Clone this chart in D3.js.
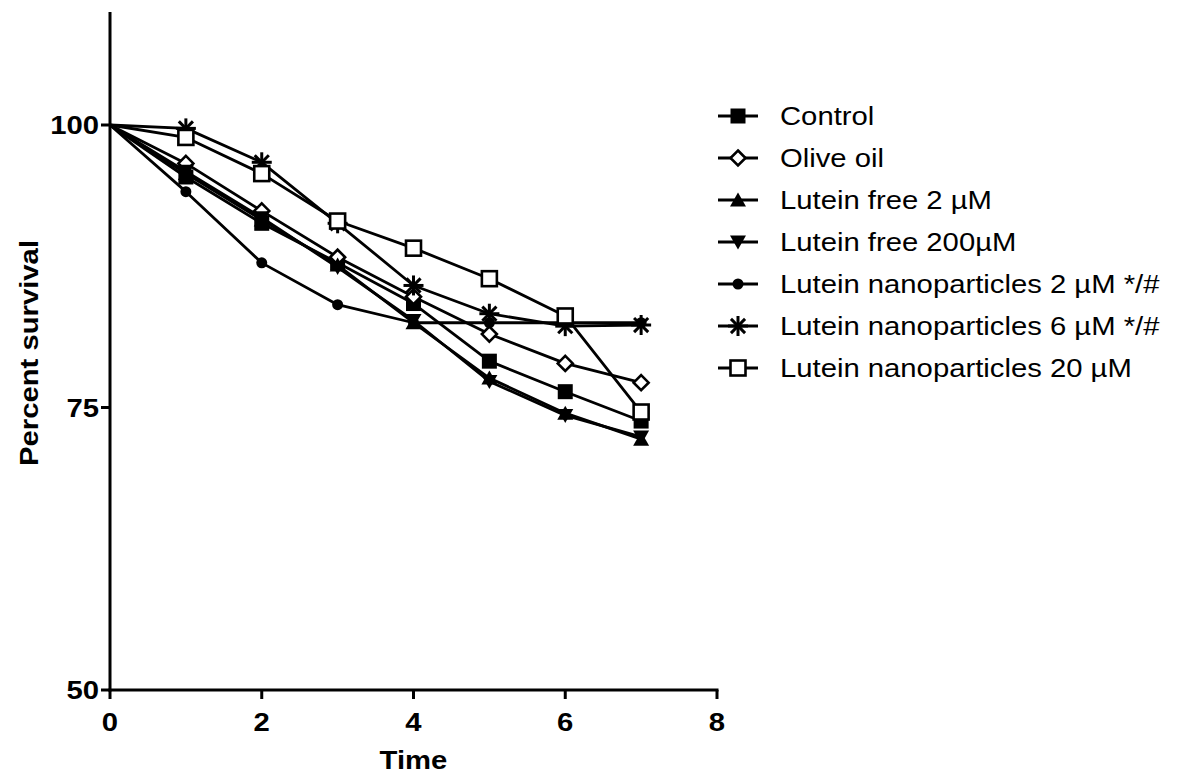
<!DOCTYPE html>
<html>
<head>
<meta charset="utf-8">
<script src="https://cdn.jsdelivr.net/npm/d3@7"></script>
<style>
  body { margin: 0; background: #fff; }
  svg { display: block; }
</style>
</head>
<body>
<script>
const times = [0, 1, 2, 3, 4, 5, 6, 7];
const seriesNames = [
  'Control',
  'Olive oil',
  'Lutein free 2 µM',
  'Lutein free 200µM',
  'Lutein nanoparticles 2 µM */#',
  'Lutein nanoparticles 6 µM */#',
  'Lutein nanoparticles 20 µM'
];
const control = [100, 95.4, 91.3, 87.8, 84.2, 79.1, 76.4, 73.8];
const oliveOil = [100, 96.6, 92.4, 88.3, 84.8, 81.5, 78.9, 77.2];
const luteinFree2 = [100, 95.7, 91.6, 87.6, 82.5, 77.6, 74.5, 72.2];
const luteinFree200 = [100, 95.9, 91.8, 87.4, 82.7, 77.3, 74.3, 72.4];
const nano2 = [100, 94.1, 87.8, 84.1, 82.5, 82.5, 82.5, 82.5];
const nano6 = [100, 99.7, 96.7, 91.3, 85.8, 83.3, 82.2, 82.3];
const nano20 = [100, 98.9, 95.7, 91.5, 89.1, 86.4, 83.1, 74.6];
const xTicks = [0, 2, 4, 6, 8];
const yTicks = [50, 75, 100];

const seriesValues = [control, oliveOil, luteinFree2, luteinFree200, nano2, nano6, nano20];
const markers = ['square', 'diamond', 'up', 'down', 'circle', 'star', 'openSquare'];

const width = 1182, height = 776;
const stretch = 1.17;

const svg = d3.select('body').append('svg')
  .attr('width', width)
  .attr('height', height);

const x = d3.scaleLinear().domain([0, 8]).range([110, 717]);
const y = d3.scaleLinear().domain([50, 110]).range([690, 12]);

// widen text like the original export
function widen(sel) {
  sel.each(function () {
    const len = this.getComputedTextLength();
    d3.select(this).attr('textLength', len * stretch).attr('lengthAdjust', 'spacingAndGlyphs');
  });
}

function drawMarker(g, type, cx, cy) {
  const sw = 2.6;
  if (type === 'square') {
    g.append('rect').attr('x', cx - 7.5).attr('y', cy - 7.5).attr('width', 15).attr('height', 15).attr('fill', '#000');
  } else if (type === 'openSquare') {
    g.append('rect').attr('x', cx - 7.5).attr('y', cy - 7.5).attr('width', 15).attr('height', 15)
      .attr('fill', '#fff').attr('stroke', '#000').attr('stroke-width', sw);
  } else if (type === 'diamond') {
    g.append('path').attr('d', `M${cx},${cy - 7.5}L${cx + 7.5},${cy}L${cx},${cy + 7.5}L${cx - 7.5},${cy}Z`)
      .attr('fill', '#fff').attr('stroke', '#000').attr('stroke-width', sw);
  } else if (type === 'up') {
    g.append('path').attr('d', `M${cx},${cy - 7.5}L${cx + 8},${cy + 6.5}L${cx - 8},${cy + 6.5}Z`).attr('fill', '#000');
  } else if (type === 'down') {
    g.append('path').attr('d', `M${cx},${cy + 7.5}L${cx + 8},${cy - 6.5}L${cx - 8},${cy - 6.5}Z`).attr('fill', '#000');
  } else if (type === 'circle') {
    g.append('circle').attr('cx', cx).attr('cy', cy).attr('r', 5.5).attr('fill', '#000');
  } else if (type === 'star') {
    const r = 10;
    for (let k = 0; k < 4; k++) {
      const a = k * Math.PI / 4;
      g.append('line')
        .attr('x1', cx - r * Math.sin(a)).attr('y1', cy - r * Math.cos(a))
        .attr('x2', cx + r * Math.sin(a)).attr('y2', cy + r * Math.cos(a))
        .attr('stroke', '#000').attr('stroke-width', 3);
    }
  }
}

// series lines
const line = d3.line().x((d, i) => x(times[i])).y(d => y(d));
const plot = svg.append('g');
seriesValues.forEach(vals => {
  plot.append('path').datum(vals).attr('d', line)
    .attr('fill', 'none').attr('stroke', '#000').attr('stroke-width', 2.8)
    .attr('stroke-linejoin', 'round');
});
seriesValues.forEach((vals, s) => {
  vals.forEach((v, i) => {
    if (i === 0) return;
    drawMarker(plot, markers[s], x(times[i]), y(v));
  });
});

// axes
const axisG = svg.append('g');
axisG.append('line').attr('x1', x(0)).attr('x2', x(0)).attr('y1', y(110)).attr('y2', y(50) + 1.5)
  .attr('stroke', '#000').attr('stroke-width', 3);
axisG.append('line').attr('x1', x(0) - 1.5).attr('x2', x(8) + 1.5).attr('y1', y(50)).attr('y2', y(50))
  .attr('stroke', '#000').attr('stroke-width', 3);

xTicks.forEach(t => {
  axisG.append('line').attr('x1', x(t)).attr('x2', x(t)).attr('y1', y(50)).attr('y2', y(50) + 9)
    .attr('stroke', '#000').attr('stroke-width', 3);
  axisG.append('text').attr('x', x(t)).attr('y', 731)
    .attr('text-anchor', 'middle')
    .attr('font-family', 'Liberation Sans, Arial, sans-serif').attr('font-weight', 'bold')
    .attr('font-size', 25).text(t).call(widen);
});
yTicks.forEach(t => {
  axisG.append('line').attr('x1', x(0) - 9).attr('x2', x(0)).attr('y1', y(t)).attr('y2', y(t))
    .attr('stroke', '#000').attr('stroke-width', 3);
  axisG.append('text').attr('x', 99).attr('y', y(t) + 9)
    .attr('text-anchor', 'end')
    .attr('font-family', 'Liberation Sans, Arial, sans-serif').attr('font-weight', 'bold')
    .attr('font-size', 25).text(t).call(widen);
});

svg.append('text').attr('x', x(4)).attr('y', 769)
  .attr('text-anchor', 'middle')
  .attr('font-family', 'Liberation Sans, Arial, sans-serif').attr('font-weight', 'bold')
  .attr('font-size', 25).text('Time').call(widen);

svg.append('text')
  .attr('transform', 'translate(38,353) rotate(-90)')
  .attr('text-anchor', 'middle')
  .attr('font-family', 'Liberation Sans, Arial, sans-serif').attr('font-weight', 'bold')
  .attr('font-size', 25).text('Percent survival').call(widen);

// legend
const legend = svg.append('g');
seriesNames.forEach((name, s) => {
  const ly = 116 + s * 42;
  legend.append('line').attr('x1', 718).attr('x2', 758).attr('y1', ly).attr('y2', ly)
    .attr('stroke', '#000').attr('stroke-width', 2.8);
  drawMarker(legend, markers[s], 738, ly);
  legend.append('text').attr('x', 780).attr('y', ly + 9)
    .attr('font-family', 'Liberation Sans, Arial, sans-serif')
    .attr('font-size', 25).text(name).call(widen);
});
</script>
</body>
</html>
